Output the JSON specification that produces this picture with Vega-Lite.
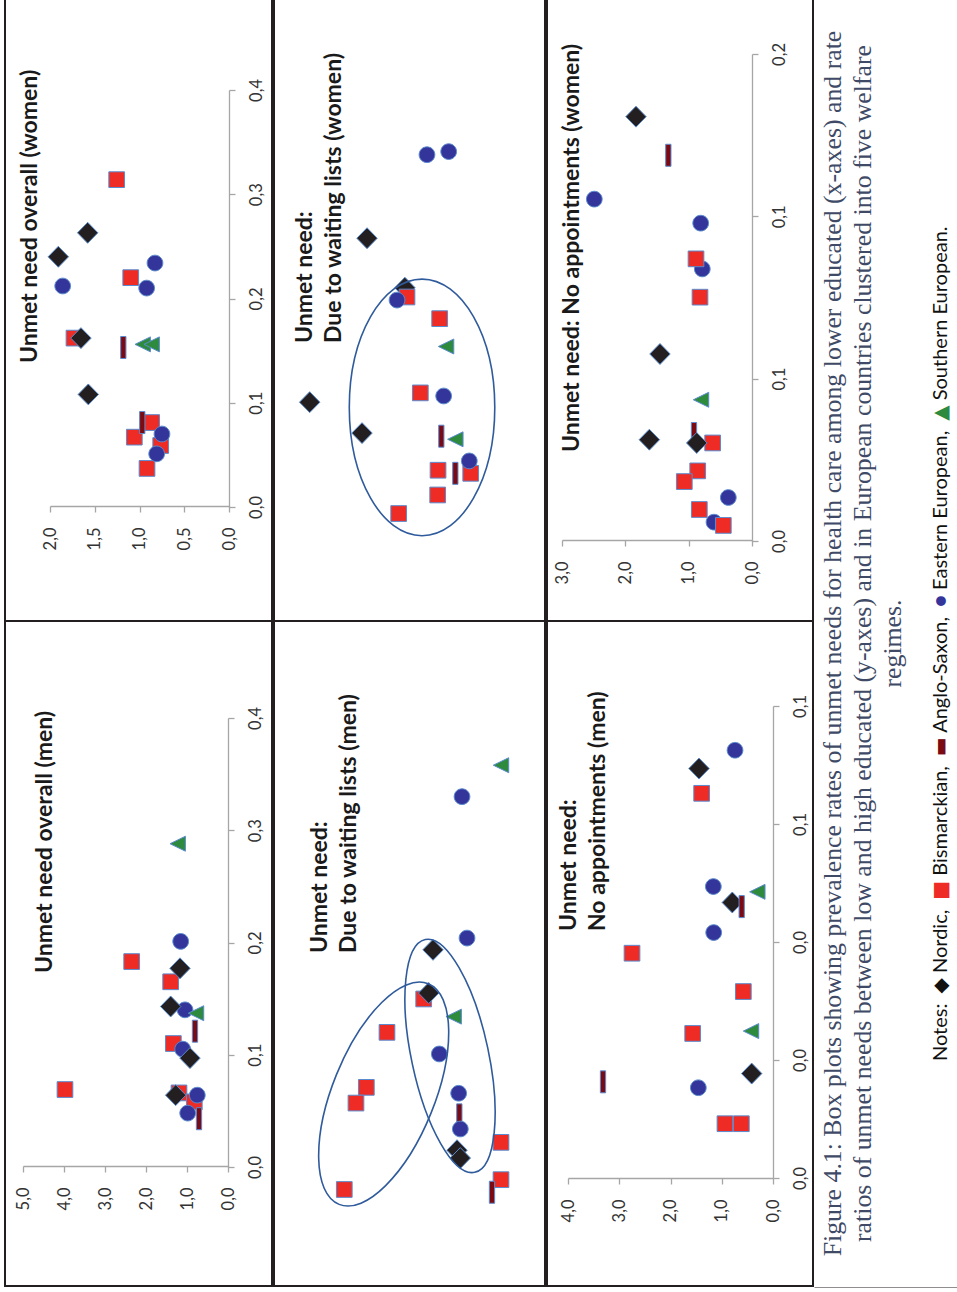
{
  "$schema": "https://vega.github.io/schema/vega-lite/v6.json",
  "background": "white",
  "padding": {"left": 4, "top": -2, "right": 0, "bottom": 0},
  "spacing": 0,
  "datasets": {
    "points": [
      {"panel": "overall-women", "regime": "Bismarckian", "ratio": 1.255, "prevalence": 0.314},
      {"panel": "overall-women", "regime": "Bismarckian", "ratio": 1.098, "prevalence": 0.220},
      {"panel": "overall-women", "regime": "Bismarckian", "ratio": 1.732, "prevalence": 0.162},
      {"panel": "overall-women", "regime": "Bismarckian", "ratio": 0.864, "prevalence": 0.081},
      {"panel": "overall-women", "regime": "Bismarckian", "ratio": 1.058, "prevalence": 0.067},
      {"panel": "overall-women", "regime": "Bismarckian", "ratio": 0.763, "prevalence": 0.059},
      {"panel": "overall-women", "regime": "Bismarckian", "ratio": 0.916, "prevalence": 0.037},
      {"panel": "overall-women", "regime": "Anglo-Saxon", "ratio": 1.181, "prevalence": 0.153},
      {"panel": "overall-women", "regime": "Anglo-Saxon", "ratio": 0.969, "prevalence": 0.081},
      {"panel": "overall-women", "regime": "Eastern European", "ratio": 0.827, "prevalence": 0.234},
      {"panel": "overall-women", "regime": "Eastern European", "ratio": 1.858, "prevalence": 0.212},
      {"panel": "overall-women", "regime": "Eastern European", "ratio": 0.920, "prevalence": 0.210},
      {"panel": "overall-women", "regime": "Eastern European", "ratio": 0.749, "prevalence": 0.070},
      {"panel": "overall-women", "regime": "Eastern European", "ratio": 0.808, "prevalence": 0.051},
      {"panel": "overall-women", "regime": "Nordic", "ratio": 1.579, "prevalence": 0.263},
      {"panel": "overall-women", "regime": "Nordic", "ratio": 1.907, "prevalence": 0.240},
      {"panel": "overall-women", "regime": "Nordic", "ratio": 1.654, "prevalence": 0.162},
      {"panel": "overall-women", "regime": "Nordic", "ratio": 1.572, "prevalence": 0.108},
      {"panel": "overall-women", "regime": "Southern European", "ratio": 0.964, "prevalence": 0.156},
      {"panel": "overall-women", "regime": "Southern European", "ratio": 0.864, "prevalence": 0.156},

      {"panel": "overall-men", "regime": "Bismarckian", "ratio": 2.349, "prevalence": 0.183},
      {"panel": "overall-men", "regime": "Bismarckian", "ratio": 1.398, "prevalence": 0.165},
      {"panel": "overall-men", "regime": "Bismarckian", "ratio": 1.333, "prevalence": 0.110},
      {"panel": "overall-men", "regime": "Bismarckian", "ratio": 3.976, "prevalence": 0.069},
      {"panel": "overall-men", "regime": "Bismarckian", "ratio": 1.195, "prevalence": 0.066},
      {"panel": "overall-men", "regime": "Bismarckian", "ratio": 0.822, "prevalence": 0.058},
      {"panel": "overall-men", "regime": "Anglo-Saxon", "ratio": 0.805, "prevalence": 0.121},
      {"panel": "overall-men", "regime": "Anglo-Saxon", "ratio": 0.707, "prevalence": 0.043},
      {"panel": "overall-men", "regime": "Eastern European", "ratio": 1.154, "prevalence": 0.201},
      {"panel": "overall-men", "regime": "Eastern European", "ratio": 1.049, "prevalence": 0.140},
      {"panel": "overall-men", "regime": "Eastern European", "ratio": 1.105, "prevalence": 0.105},
      {"panel": "overall-men", "regime": "Eastern European", "ratio": 0.749, "prevalence": 0.064},
      {"panel": "overall-men", "regime": "Eastern European", "ratio": 0.983, "prevalence": 0.048},
      {"panel": "overall-men", "regime": "Nordic", "ratio": 1.171, "prevalence": 0.177},
      {"panel": "overall-men", "regime": "Nordic", "ratio": 1.398, "prevalence": 0.143},
      {"panel": "overall-men", "regime": "Nordic", "ratio": 0.927, "prevalence": 0.097},
      {"panel": "overall-men", "regime": "Nordic", "ratio": 1.276, "prevalence": 0.064},
      {"panel": "overall-men", "regime": "Southern European", "ratio": 1.227, "prevalence": 0.288},
      {"panel": "overall-men", "regime": "Southern European", "ratio": 0.780, "prevalence": 0.137},

      {"panel": "waiting-women", "regime": "Nordic", "ratio": 1.400, "prevalence": 0.078},
      {"panel": "waiting-women", "regime": "Bismarckian", "ratio": 1.369, "prevalence": 0.075},
      {"panel": "waiting-women", "regime": "Bismarckian", "ratio": 0.893, "prevalence": 0.068},
      {"panel": "waiting-women", "regime": "Bismarckian", "ratio": 1.175, "prevalence": 0.044},
      {"panel": "waiting-women", "regime": "Bismarckian", "ratio": 0.917, "prevalence": 0.019},
      {"panel": "waiting-women", "regime": "Bismarckian", "ratio": 0.441, "prevalence": 0.018},
      {"panel": "waiting-women", "regime": "Bismarckian", "ratio": 0.922, "prevalence": 0.011},
      {"panel": "waiting-women", "regime": "Bismarckian", "ratio": 1.490, "prevalence": 0.005},
      {"panel": "waiting-women", "regime": "Anglo-Saxon", "ratio": 0.869, "prevalence": 0.030},
      {"panel": "waiting-women", "regime": "Anglo-Saxon", "ratio": 0.665, "prevalence": 0.018},
      {"panel": "waiting-women", "regime": "Eastern European", "ratio": 0.762, "prevalence": 0.122},
      {"panel": "waiting-women", "regime": "Eastern European", "ratio": 1.078, "prevalence": 0.121},
      {"panel": "waiting-women", "regime": "Eastern European", "ratio": 1.514, "prevalence": 0.074},
      {"panel": "waiting-women", "regime": "Eastern European", "ratio": 0.835, "prevalence": 0.043},
      {"panel": "waiting-women", "regime": "Eastern European", "ratio": 0.462, "prevalence": 0.022},
      {"panel": "waiting-women", "regime": "Nordic", "ratio": 1.951, "prevalence": 0.094},
      {"panel": "waiting-women", "regime": "Nordic", "ratio": 2.786, "prevalence": 0.041},
      {"panel": "waiting-women", "regime": "Nordic", "ratio": 2.024, "prevalence": 0.031},
      {"panel": "waiting-women", "regime": "Southern European", "ratio": 0.800, "prevalence": 0.059},
      {"panel": "waiting-women", "regime": "Southern European", "ratio": 0.665, "prevalence": 0.029},

      {"panel": "waiting-men", "regime": "Bismarckian", "ratio": 1.501, "prevalence": 0.0555},
      {"panel": "waiting-men", "regime": "Bismarckian", "ratio": 2.214, "prevalence": 0.047},
      {"panel": "waiting-men", "regime": "Bismarckian", "ratio": 2.615, "prevalence": 0.033},
      {"panel": "waiting-men", "regime": "Bismarckian", "ratio": 2.816, "prevalence": 0.029},
      {"panel": "waiting-men", "regime": "Bismarckian", "ratio": 0.0, "prevalence": 0.019},
      {"panel": "waiting-men", "regime": "Bismarckian", "ratio": 0.0, "prevalence": 0.0095},
      {"panel": "waiting-men", "regime": "Bismarckian", "ratio": 3.043, "prevalence": 0.007},
      {"panel": "waiting-men", "regime": "Anglo-Saxon", "ratio": 0.809, "prevalence": 0.026},
      {"panel": "waiting-men", "regime": "Anglo-Saxon", "ratio": 0.175, "prevalence": 0.0063},
      {"panel": "waiting-men", "regime": "Eastern European", "ratio": 0.757, "prevalence": 0.107},
      {"panel": "waiting-men", "regime": "Eastern European", "ratio": 0.660, "prevalence": 0.071},
      {"panel": "waiting-men", "regime": "Eastern European", "ratio": 1.198, "prevalence": 0.0415},
      {"panel": "waiting-men", "regime": "Eastern European", "ratio": 0.822, "prevalence": 0.0315},
      {"panel": "waiting-men", "regime": "Eastern European", "ratio": 0.790, "prevalence": 0.0224},
      {"panel": "waiting-men", "regime": "Nordic", "ratio": 1.320, "prevalence": 0.068},
      {"panel": "waiting-men", "regime": "Nordic", "ratio": 1.404, "prevalence": 0.057},
      {"panel": "waiting-men", "regime": "Nordic", "ratio": 0.854, "prevalence": 0.017},
      {"panel": "waiting-men", "regime": "Nordic", "ratio": 0.790, "prevalence": 0.015},
      {"panel": "waiting-men", "regime": "Southern European", "ratio": 0.0, "prevalence": 0.115},
      {"panel": "waiting-men", "regime": "Southern European", "ratio": 0.919, "prevalence": 0.051},

      {"panel": "noappt-women", "regime": "Eastern European", "ratio": 2.490, "prevalence": 0.1053},
      {"panel": "noappt-women", "regime": "Eastern European", "ratio": 0.810, "prevalence": 0.0979},
      {"panel": "noappt-women", "regime": "Eastern European", "ratio": 0.785, "prevalence": 0.0838},
      {"panel": "noappt-women", "regime": "Eastern European", "ratio": 0.374, "prevalence": 0.0134},
      {"panel": "noappt-women", "regime": "Eastern European", "ratio": 0.600, "prevalence": 0.0058},
      {"panel": "noappt-women", "regime": "Bismarckian", "ratio": 0.884, "prevalence": 0.0869},
      {"panel": "noappt-women", "regime": "Bismarckian", "ratio": 0.821, "prevalence": 0.0751},
      {"panel": "noappt-women", "regime": "Bismarckian", "ratio": 0.621, "prevalence": 0.0302},
      {"panel": "noappt-women", "regime": "Bismarckian", "ratio": 0.857, "prevalence": 0.0216},
      {"panel": "noappt-women", "regime": "Bismarckian", "ratio": 1.069, "prevalence": 0.0183},
      {"panel": "noappt-women", "regime": "Bismarckian", "ratio": 0.832, "prevalence": 0.0097},
      {"panel": "noappt-women", "regime": "Bismarckian", "ratio": 0.453, "prevalence": 0.0048},
      {"panel": "noappt-women", "regime": "Anglo-Saxon", "ratio": 1.321, "prevalence": 0.1188},
      {"panel": "noappt-women", "regime": "Anglo-Saxon", "ratio": 0.916, "prevalence": 0.0331},
      {"panel": "noappt-women", "regime": "Nordic", "ratio": 1.832, "prevalence": 0.1307},
      {"panel": "noappt-women", "regime": "Nordic", "ratio": 1.453, "prevalence": 0.0576},
      {"panel": "noappt-women", "regime": "Nordic", "ratio": 1.621, "prevalence": 0.0312},
      {"panel": "noappt-women", "regime": "Nordic", "ratio": 0.873, "prevalence": 0.0302},
      {"panel": "noappt-women", "regime": "Southern European", "ratio": 0.805, "prevalence": 0.0435},

      {"panel": "noappt-men", "regime": "Bismarckian", "ratio": 1.392, "prevalence": 0.0652},
      {"panel": "noappt-men", "regime": "Bismarckian", "ratio": 2.751, "prevalence": 0.0381},
      {"panel": "noappt-men", "regime": "Bismarckian", "ratio": 0.579, "prevalence": 0.0316},
      {"panel": "noappt-men", "regime": "Bismarckian", "ratio": 1.567, "prevalence": 0.0245},
      {"panel": "noappt-men", "regime": "Bismarckian", "ratio": 0.937, "prevalence": 0.0092},
      {"panel": "noappt-men", "regime": "Bismarckian", "ratio": 0.618, "prevalence": 0.0092},
      {"panel": "noappt-men", "regime": "Eastern European", "ratio": 0.741, "prevalence": 0.0725},
      {"panel": "noappt-men", "regime": "Eastern European", "ratio": 1.164, "prevalence": 0.0494},
      {"panel": "noappt-men", "regime": "Eastern European", "ratio": 1.157, "prevalence": 0.0416},
      {"panel": "noappt-men", "regime": "Eastern European", "ratio": 1.457, "prevalence": 0.0153},
      {"panel": "noappt-men", "regime": "Nordic", "ratio": 1.444, "prevalence": 0.0694},
      {"panel": "noappt-men", "regime": "Nordic", "ratio": 0.794, "prevalence": 0.0467},
      {"panel": "noappt-men", "regime": "Nordic", "ratio": 0.416, "prevalence": 0.0177},
      {"panel": "noappt-men", "regime": "Anglo-Saxon", "ratio": 0.611, "prevalence": 0.046},
      {"panel": "noappt-men", "regime": "Anglo-Saxon", "ratio": 3.317, "prevalence": 0.0163},
      {"panel": "noappt-men", "regime": "Southern European", "ratio": 0.306, "prevalence": 0.0485},
      {"panel": "noappt-men", "regime": "Southern European", "ratio": 0.429, "prevalence": 0.0249}
    ],
    "clusters": [
      {"panel": "waiting-women", "cluster": "women", "ratio": 1.15, "prevalence": 0.0393},
      {"panel": "waiting-men", "cluster": "left", "ratio": 2.278, "prevalence": 0.0313},
      {"panel": "waiting-men", "cluster": "right", "ratio": 0.99, "prevalence": 0.041}
    ],
    "legend": [
      {"regime": "Southern European", "upto": "Notes:\u2002◆ Nordic,\u2002■ Bismarckian,\u2002▬ Anglo-Saxon,\u2002● Eastern European,\u2002▲", "before": "Notes:\u2002◆ Nordic,\u2002■ Bismarckian,\u2002▬ Anglo-Saxon,\u2002● Eastern European,"},
      {"regime": "Eastern European", "upto": "Notes:\u2002◆ Nordic,\u2002■ Bismarckian,\u2002▬ Anglo-Saxon,\u2002●", "before": "Notes:\u2002◆ Nordic,\u2002■ Bismarckian,\u2002▬ Anglo-Saxon,"},
      {"regime": "Anglo-Saxon", "upto": "Notes:\u2002◆ Nordic,\u2002■ Bismarckian,\u2002▬", "before": "Notes:\u2002◆ Nordic,\u2002■ Bismarckian,"},
      {"regime": "Bismarckian", "upto": "Notes:\u2002◆ Nordic,\u2002■", "before": "Notes:\u2002◆ Nordic,"}
    ]
  },
  "hconcat": [
    {
      "spacing": 0,
      "bounds": "flush",
      "vconcat": [
        {
          "width": 267, "height": 622,
          "title": {"text": "Unmet need overall (women)", "orient": "left", "anchor": "start", "frame": "group", "offset": -36.5, "dx": 258},
          "layer": [
            {
              "data": {"name": "points"},
              "transform": [{"filter": "datum.panel === 'overall-women'"}],
              "mark": {"type": "point", "filled": true, "opacity": 1, "size": 484, "stroke": "#5b8bcf", "strokeWidth": 1},
              "encoding": {
                "x": {"field": "ratio", "type": "quantitative", "scale": {"domain": [0, 2], "range": [224, 45], "nice": false, "zero": false},
                      "axis": {"orient": "bottom", "offset": -115, "values": [0, 0.5, 1, 1.5, 2], "title": null, "labelExpr": "replace(format(datum.value + 1e-9, '.1f'), '.', ',')"}},
                "y": {"field": "prevalence", "type": "quantitative", "scale": {"domain": [0, 0.4], "range": [508, 91], "nice": false, "zero": false},
                      "axis": {"orient": "right", "offset": -43, "values": [0, 0.1, 0.2, 0.3, 0.4], "title": null, "labelExpr": "replace(format(datum.value + 1e-9, '.1f'), '.', ',')"}},
                "color": {"field": "regime", "type": "nominal", "legend": null, "scale": {"domain": ["Nordic", "Bismarckian", "Anglo-Saxon", "Eastern European", "Southern European"], "range": ["#231f20", "#ee2b24", "#7b0a12", "#34359a", "#2e8b3e"]}},
                "shape": {"field": "regime", "type": "nominal", "legend": null, "scale": {"domain": ["Nordic", "Bismarckian", "Anglo-Saxon", "Eastern European", "Southern European"], "range": ["M -0.93 0 L 0 -0.95 L 0.93 0 L 0 0.95 Z", "M -0.714 -0.714 L 0.714 -0.714 L 0.714 0.714 L -0.714 0.714 Z", "M -0.24 -1 L 0.24 -1 L 0.24 1 L -0.24 1 Z", "M 0 -0.714 C 0.394 -0.714 0.714 -0.394 0.714 0 C 0.714 0.394 0.394 0.714 0 0.714 C -0.394 0.714 -0.714 0.394 -0.714 0 C -0.714 -0.394 -0.394 -0.714 0 -0.714 Z", "M -0.7 0 L 0.7 -0.68 L 0.7 0.68 Z"]}}
              }
            }
          ]
        },
        {
          "width": 267, "height": 665,
          "title": {"text": "Unmet need overall (men)", "orient": "left", "anchor": "start", "frame": "group", "offset": -51.5, "dx": 313},
          "layer": [
            {
              "data": {"name": "points"},
              "transform": [{"filter": "datum.panel === 'overall-men'"}],
              "mark": {"type": "point", "filled": true, "opacity": 1, "size": 484, "stroke": "#5b8bcf", "strokeWidth": 1},
              "encoding": {
                "x": {"field": "ratio", "type": "quantitative", "scale": {"domain": [0, 5], "range": [223, 18], "nice": false, "zero": false},
                      "axis": {"orient": "bottom", "offset": -120, "values": [0, 1, 2, 3, 4, 5], "title": null, "labelExpr": "replace(format(datum.value + 1e-9, '.1f'), '.', ',')"}},
                "y": {"field": "prevalence", "type": "quantitative", "scale": {"domain": [0, 0.4], "range": [546, 97], "nice": false, "zero": false},
                      "axis": {"orient": "right", "offset": -44, "values": [0, 0.1, 0.2, 0.3, 0.4], "title": null, "labelExpr": "replace(format(datum.value + 1e-9, '.1f'), '.', ',')"}},
                "color": {"field": "regime", "type": "nominal", "legend": null, "scale": {"domain": ["Nordic", "Bismarckian", "Anglo-Saxon", "Eastern European", "Southern European"], "range": ["#231f20", "#ee2b24", "#7b0a12", "#34359a", "#2e8b3e"]}},
                "shape": {"field": "regime", "type": "nominal", "legend": null, "scale": {"domain": ["Nordic", "Bismarckian", "Anglo-Saxon", "Eastern European", "Southern European"], "range": ["M -0.93 0 L 0 -0.95 L 0.93 0 L 0 0.95 Z", "M -0.714 -0.714 L 0.714 -0.714 L 0.714 0.714 L -0.714 0.714 Z", "M -0.24 -1 L 0.24 -1 L 0.24 1 L -0.24 1 Z", "M 0 -0.714 C 0.394 -0.714 0.714 -0.394 0.714 0 C 0.714 0.394 0.394 0.714 0 0.714 C -0.394 0.714 -0.714 0.394 -0.714 0 C -0.714 -0.394 -0.394 -0.714 0 -0.714 Z", "M -0.7 0 L 0.7 -0.68 L 0.7 0.68 Z"]}}
              }
            }
          ]
        }
      ]
    },
    {
      "spacing": 0,
      "bounds": "flush",
      "vconcat": [
        {
          "width": 271, "height": 622,
          "title": {"text": ["Unmet need:", "Due to waiting lists (women)"], "orient": "left", "anchor": "start", "frame": "group", "offset": -72, "dx": 278},
          "layer": [
            {
              "data": {"name": "points"},
              "transform": [{"filter": "datum.panel === 'waiting-women'"}],
              "mark": {"type": "point", "filled": true, "opacity": 1, "size": 484, "stroke": "#5b8bcf", "strokeWidth": 1},
              "encoding": {
                "x": {"field": "ratio", "type": "quantitative", "scale": {"domain": [0, 3], "range": [227, 21], "nice": false, "zero": false},
                      "axis": {"orient": "bottom", "offset": -93, "values": [0, 0.5, 1, 1.5, 2, 2.5, 3], "title": null, "labelExpr": "replace(format(datum.value + 1e-9, '.1f'), '.', ',')"}},
                "y": {"field": "prevalence", "type": "quantitative", "scale": {"domain": [0, 0.15], "range": [530, 66], "nice": false, "zero": false},
                      "axis": {"orient": "right", "offset": -44, "values": [0, 0.05, 0.1, 0.15], "title": null, "labelExpr": "replace(format(datum.value + 1e-9, '.1f'), '.', ',')"}},
                "color": {"field": "regime", "type": "nominal", "legend": null, "scale": {"domain": ["Nordic", "Bismarckian", "Anglo-Saxon", "Eastern European", "Southern European"], "range": ["#231f20", "#ee2b24", "#7b0a12", "#34359a", "#2e8b3e"]}},
                "shape": {"field": "regime", "type": "nominal", "legend": null, "scale": {"domain": ["Nordic", "Bismarckian", "Anglo-Saxon", "Eastern European", "Southern European"], "range": ["M -0.93 0 L 0 -0.95 L 0.93 0 L 0 0.95 Z", "M -0.714 -0.714 L 0.714 -0.714 L 0.714 0.714 L -0.714 0.714 Z", "M -0.24 -1 L 0.24 -1 L 0.24 1 L -0.24 1 Z", "M 0 -0.714 C 0.394 -0.714 0.714 -0.394 0.714 0 C 0.714 0.394 0.394 0.714 0 0.714 C -0.394 0.714 -0.714 0.394 -0.714 0 C -0.714 -0.394 -0.394 -0.714 0 -0.714 Z", "M -0.7 0 L 0.7 -0.68 L 0.7 0.68 Z"]}}
              }
            },
            {
              "data": {"name": "clusters"},
              "transform": [{"filter": "datum.cluster === 'women'"}],
              "mark": {"type": "point", "filled": false, "opacity": 1, "size": 65844, "stroke": "#2f5b9c", "strokeWidth": 1.6,
                       "shape": "M 0 -1 C 0.313 -1 0.567 -0.552 0.567 0 C 0.567 0.552 0.313 1 0 1 C -0.313 1 -0.567 0.552 -0.567 0 C -0.567 -0.552 -0.313 -1 0 -1 Z"},
              "encoding": {
                "x": {"field": "ratio", "type": "quantitative", "axis": null},
                "y": {"field": "prevalence", "type": "quantitative", "axis": null}
              }
            }
          ]
        },
        {
          "width": 271, "height": 665,
          "title": {"text": ["Unmet need:", "Due to waiting lists (men)"], "orient": "left", "anchor": "start", "frame": "group", "offset": -86.5, "dx": 333},
          "layer": [
            {
              "data": {"name": "points"},
              "transform": [{"filter": "datum.panel === 'waiting-men'"}],
              "mark": {"type": "point", "filled": true, "opacity": 1, "size": 484, "stroke": "#5b8bcf", "strokeWidth": 1},
              "encoding": {
                "x": {"field": "ratio", "type": "quantitative", "scale": {"domain": [0, 4], "range": [227, 21], "nice": false, "zero": false},
                      "axis": {"orient": "bottom", "offset": -70, "values": [0, 1, 2, 3, 4], "title": null, "labelExpr": "replace(format(datum.value + 1e-9, '.1f'), '.', ',')"}},
                "y": {"field": "prevalence", "type": "quantitative", "scale": {"domain": [0, 0.14], "range": [596, 46], "nice": false, "zero": false},
                      "axis": {"orient": "right", "offset": -44, "values": [0, 0.02, 0.04, 0.06, 0.08, 0.1, 0.12, 0.14], "title": null, "labelExpr": "replace(format(datum.value + 1e-9, '.1f'), '.', ',')"}},
                "color": {"field": "regime", "type": "nominal", "legend": null, "scale": {"domain": ["Nordic", "Bismarckian", "Anglo-Saxon", "Eastern European", "Southern European"], "range": ["#231f20", "#ee2b24", "#7b0a12", "#34359a", "#2e8b3e"]}},
                "shape": {"field": "regime", "type": "nominal", "legend": null, "scale": {"domain": ["Nordic", "Bismarckian", "Anglo-Saxon", "Eastern European", "Southern European"], "range": ["M -0.93 0 L 0 -0.95 L 0.93 0 L 0 0.95 Z", "M -0.714 -0.714 L 0.714 -0.714 L 0.714 0.714 L -0.714 0.714 Z", "M -0.24 -1 L 0.24 -1 L 0.24 1 L -0.24 1 Z", "M 0 -0.714 C 0.394 -0.714 0.714 -0.394 0.714 0 C 0.714 0.394 0.394 0.714 0 0.714 C -0.394 0.714 -0.714 0.394 -0.714 0 C -0.714 -0.394 -0.394 -0.714 0 -0.714 Z", "M -0.7 0 L 0.7 -0.68 L 0.7 0.68 Z"]}}
              }
            },
            {
              "data": {"name": "clusters"},
              "transform": [{"filter": "datum.cluster === 'left'"}],
              "mark": {"type": "point", "filled": false, "opacity": 1, "size": 56644, "angle": 22, "stroke": "#2f5b9c", "strokeWidth": 1.6,
                       "shape": "M 0 -1 C 0.237 -1 0.429 -0.552 0.429 0 C 0.429 0.552 0.237 1 0 1 C -0.237 1 -0.429 0.552 -0.429 0 C -0.429 -0.552 -0.237 -1 0 -1 Z"},
              "encoding": {
                "x": {"field": "ratio", "type": "quantitative", "axis": null},
                "y": {"field": "prevalence", "type": "quantitative", "axis": null}
              }
            },
            {
              "data": {"name": "clusters"},
              "transform": [{"filter": "datum.cluster === 'right'"}],
              "mark": {"type": "point", "filled": false, "opacity": 1, "size": 56644, "angle": 348, "stroke": "#2f5b9c", "strokeWidth": 1.6,
                       "shape": "M 0 -1 C 0.179 -1 0.324 -0.552 0.324 0 C 0.324 0.552 0.179 1 0 1 C -0.179 1 -0.324 0.552 -0.324 0 C -0.324 -0.552 -0.179 -1 0 -1 Z"},
              "encoding": {
                "x": {"field": "ratio", "type": "quantitative", "axis": null},
                "y": {"field": "prevalence", "type": "quantitative", "axis": null}
              }
            }
          ]
        }
      ]
    },
    {
      "spacing": 0,
      "bounds": "flush",
      "vconcat": [
        {
          "width": 266, "height": 622,
          "title": {"text": "Unmet need: No appointments (women)", "orient": "left", "anchor": "start", "frame": "group", "offset": -36.5, "dx": 169},
          "layer": [
            {
              "data": {"name": "points"},
              "transform": [{"filter": "datum.panel === 'noappt-women'"}],
              "mark": {"type": "point", "filled": true, "opacity": 1, "size": 484, "stroke": "#5b8bcf", "strokeWidth": 1},
              "encoding": {
                "x": {"field": "ratio", "type": "quantitative", "scale": {"domain": [0, 3], "range": [205, 15], "nice": false, "zero": false},
                      "axis": {"orient": "bottom", "offset": -81, "values": [0, 1, 2, 3], "title": null, "labelExpr": "replace(format(datum.value + 1e-9, '.1f'), '.', ',')"}},
                "y": {"field": "prevalence", "type": "quantitative", "scale": {"domain": [0, 0.15], "range": [542, 55], "nice": false, "zero": false},
                      "axis": {"orient": "right", "offset": -61, "values": [0, 0.05, 0.1, 0.15], "title": null, "labelExpr": "replace(format(datum.value + 1e-9, '.1f'), '.', ',')"}},
                "color": {"field": "regime", "type": "nominal", "legend": null, "scale": {"domain": ["Nordic", "Bismarckian", "Anglo-Saxon", "Eastern European", "Southern European"], "range": ["#231f20", "#ee2b24", "#7b0a12", "#34359a", "#2e8b3e"]}},
                "shape": {"field": "regime", "type": "nominal", "legend": null, "scale": {"domain": ["Nordic", "Bismarckian", "Anglo-Saxon", "Eastern European", "Southern European"], "range": ["M -0.93 0 L 0 -0.95 L 0.93 0 L 0 0.95 Z", "M -0.714 -0.714 L 0.714 -0.714 L 0.714 0.714 L -0.714 0.714 Z", "M -0.24 -1 L 0.24 -1 L 0.24 1 L -0.24 1 Z", "M 0 -0.714 C 0.394 -0.714 0.714 -0.394 0.714 0 C 0.714 0.394 0.394 0.714 0 0.714 C -0.394 0.714 -0.714 0.394 -0.714 0 C -0.714 -0.394 -0.394 -0.714 0 -0.714 Z", "M -0.7 0 L 0.7 -0.68 L 0.7 0.68 Z"]}}
              }
            }
          ]
        },
        {
          "width": 266, "height": 665,
          "title": {"text": ["Unmet need:", "No appointments (men)"], "orient": "left", "anchor": "start", "frame": "group", "offset": -63, "dx": 355},
          "layer": [
            {
              "data": {"name": "points"},
              "transform": [{"filter": "datum.panel === 'noappt-men'"}],
              "mark": {"type": "point", "filled": true, "opacity": 1, "size": 484, "stroke": "#5b8bcf", "strokeWidth": 1},
              "encoding": {
                "x": {"field": "ratio", "type": "quantitative", "scale": {"domain": [0, 4], "range": [226, 21], "nice": false, "zero": false},
                      "axis": {"orient": "bottom", "offset": -108, "values": [0, 1, 2, 3, 4], "title": null, "labelExpr": "replace(format(datum.value + 1e-9, '.1f'), '.', ',')"}},
                "y": {"field": "prevalence", "type": "quantitative", "scale": {"domain": [0, 0.08], "range": [557, 85], "nice": false, "zero": false},
                      "axis": {"orient": "right", "offset": -40, "values": [0, 0.02, 0.04, 0.06, 0.08], "title": null, "labelExpr": "replace(format(datum.value + 1e-9, '.1f'), '.', ',')"}},
                "color": {"field": "regime", "type": "nominal", "legend": null, "scale": {"domain": ["Nordic", "Bismarckian", "Anglo-Saxon", "Eastern European", "Southern European"], "range": ["#231f20", "#ee2b24", "#7b0a12", "#34359a", "#2e8b3e"]}},
                "shape": {"field": "regime", "type": "nominal", "legend": null, "scale": {"domain": ["Nordic", "Bismarckian", "Anglo-Saxon", "Eastern European", "Southern European"], "range": ["M -0.93 0 L 0 -0.95 L 0.93 0 L 0 0.95 Z", "M -0.714 -0.714 L 0.714 -0.714 L 0.714 0.714 L -0.714 0.714 Z", "M -0.24 -1 L 0.24 -1 L 0.24 1 L -0.24 1 Z", "M 0 -0.714 C 0.394 -0.714 0.714 -0.394 0.714 0 C 0.714 0.394 0.394 0.714 0 0.714 C -0.394 0.714 -0.714 0.394 -0.714 0 C -0.714 -0.394 -0.394 -0.714 0 -0.714 Z", "M -0.7 0 L 0.7 -0.68 L 0.7 0.68 Z"]}}
              }
            }
          ]
        }
      ]
    },
    {
      "spacing": 0,
      "bounds": "flush",
      "hconcat": [
        {
          "width": 38, "height": 1289,
          "view": {"stroke": null},
          "layer": [
            {
              "data": {"values": [{"part": "caption"}]},
              "mark": {"type": "text", "angle": 270, "align": "center", "baseline": "middle", "font": "Liberation Serif", "fontSize": 25.8, "lineHeight": 30, "color": "#3e4a66"},
              "encoding": {
                "text": {"value": [
                  "Figure 4.1: Box plots showing prevalence rates of unmet needs for health care among lower educated (x-axes) and rate",
                  "ratios of unmet needs between low and high educated (y-axes) and in European countries clustered into five welfare",
                  "regimes."
                ]}
              }
            },
            {
              "data": {"values": [{"part": "caption"}]},
              "mark": {"type": "text", "text": ""},
              "encoding": {
                "x": {"field": "part", "type": "nominal", "scale": {"type": "band", "paddingInner": 0, "paddingOuter": 0, "range": [0, 143]},
                      "axis": {"title": null, "labels": false, "ticks": false, "domainColor": "#231f20", "domainWidth": 2}}
              }
            }
          ]
        },
        {
          "width": 99, "height": 1062,
          "view": {"stroke": null},
          "layer": [
            {
              "data": {"values": [{"notes": "Notes:\u2002◆ Nordic,\u2002■ Bismarckian,\u2002▬ Anglo-Saxon,\u2002● Eastern European,\u2002▲ Southern European."}]},
              "mark": {"type": "text", "angle": 270, "align": "left", "baseline": "bottom", "font": "Lato, DejaVu Sans", "fontSize": 20, "color": "#111111"},
              "encoding": {"x": {"value": "width"}, "y": {"value": "height"}, "text": {"field": "notes"}}
            },
            {
              "data": {"name": "legend"}, "transform": [{"filter": "datum.regime === 'Southern European'"}],
              "mark": {"type": "text", "angle": 270, "align": "left", "baseline": "bottom", "font": "Lato, DejaVu Sans", "fontSize": 20, "fill": "white", "stroke": "white", "strokeWidth": 3},
              "encoding": {"x": {"value": "width"}, "y": {"value": "height"}, "text": {"field": "upto"}}
            },
            {
              "data": {"name": "legend"}, "transform": [{"filter": "datum.regime === 'Southern European'"}],
              "mark": {"type": "text", "angle": 270, "align": "left", "baseline": "bottom", "font": "Lato, DejaVu Sans", "fontSize": 20},
              "encoding": {"x": {"value": "width"}, "y": {"value": "height"}, "text": {"field": "upto"},
                "color": {"field": "regime", "type": "nominal", "legend": null, "scale": {"domain": ["Nordic", "Bismarckian", "Anglo-Saxon", "Eastern European", "Southern European"], "range": ["#231f20", "#ee2b24", "#7b0a12", "#34359a", "#2e8b3e"]}}}
            },
            {
              "data": {"name": "legend"}, "transform": [{"filter": "datum.regime === 'Southern European'"}],
              "mark": {"type": "text", "angle": 270, "align": "left", "baseline": "bottom", "font": "Lato, DejaVu Sans", "fontSize": 20, "fill": "white", "stroke": "white", "strokeWidth": 3},
              "encoding": {"x": {"value": "width"}, "y": {"value": "height"}, "text": {"field": "before"}}
            },
            {
              "data": {"name": "legend"}, "transform": [{"filter": "datum.regime === 'Southern European'"}],
              "mark": {"type": "text", "angle": 270, "align": "left", "baseline": "bottom", "font": "Lato, DejaVu Sans", "fontSize": 20, "color": "#111111"},
              "encoding": {"x": {"value": "width"}, "y": {"value": "height"}, "text": {"field": "before"}}
            },
            {
              "data": {"name": "legend"}, "transform": [{"filter": "datum.regime === 'Eastern European'"}],
              "mark": {"type": "text", "angle": 270, "align": "left", "baseline": "bottom", "font": "Lato, DejaVu Sans", "fontSize": 20, "fill": "white", "stroke": "white", "strokeWidth": 3},
              "encoding": {"x": {"value": "width"}, "y": {"value": "height"}, "text": {"field": "upto"}}
            },
            {
              "data": {"name": "legend"}, "transform": [{"filter": "datum.regime === 'Eastern European'"}],
              "mark": {"type": "text", "angle": 270, "align": "left", "baseline": "bottom", "font": "Lato, DejaVu Sans", "fontSize": 20},
              "encoding": {"x": {"value": "width"}, "y": {"value": "height"}, "text": {"field": "upto"},
                "color": {"field": "regime", "type": "nominal", "legend": null, "scale": {"domain": ["Nordic", "Bismarckian", "Anglo-Saxon", "Eastern European", "Southern European"], "range": ["#231f20", "#ee2b24", "#7b0a12", "#34359a", "#2e8b3e"]}}}
            },
            {
              "data": {"name": "legend"}, "transform": [{"filter": "datum.regime === 'Eastern European'"}],
              "mark": {"type": "text", "angle": 270, "align": "left", "baseline": "bottom", "font": "Lato, DejaVu Sans", "fontSize": 20, "fill": "white", "stroke": "white", "strokeWidth": 3},
              "encoding": {"x": {"value": "width"}, "y": {"value": "height"}, "text": {"field": "before"}}
            },
            {
              "data": {"name": "legend"}, "transform": [{"filter": "datum.regime === 'Eastern European'"}],
              "mark": {"type": "text", "angle": 270, "align": "left", "baseline": "bottom", "font": "Lato, DejaVu Sans", "fontSize": 20, "color": "#111111"},
              "encoding": {"x": {"value": "width"}, "y": {"value": "height"}, "text": {"field": "before"}}
            },
            {
              "data": {"name": "legend"}, "transform": [{"filter": "datum.regime === 'Anglo-Saxon'"}],
              "mark": {"type": "text", "angle": 270, "align": "left", "baseline": "bottom", "font": "Lato, DejaVu Sans", "fontSize": 20, "fill": "white", "stroke": "white", "strokeWidth": 3},
              "encoding": {"x": {"value": "width"}, "y": {"value": "height"}, "text": {"field": "upto"}}
            },
            {
              "data": {"name": "legend"}, "transform": [{"filter": "datum.regime === 'Anglo-Saxon'"}],
              "mark": {"type": "text", "angle": 270, "align": "left", "baseline": "bottom", "font": "Lato, DejaVu Sans", "fontSize": 20},
              "encoding": {"x": {"value": "width"}, "y": {"value": "height"}, "text": {"field": "upto"},
                "color": {"field": "regime", "type": "nominal", "legend": null, "scale": {"domain": ["Nordic", "Bismarckian", "Anglo-Saxon", "Eastern European", "Southern European"], "range": ["#231f20", "#ee2b24", "#7b0a12", "#34359a", "#2e8b3e"]}}}
            },
            {
              "data": {"name": "legend"}, "transform": [{"filter": "datum.regime === 'Anglo-Saxon'"}],
              "mark": {"type": "text", "angle": 270, "align": "left", "baseline": "bottom", "font": "Lato, DejaVu Sans", "fontSize": 20, "fill": "white", "stroke": "white", "strokeWidth": 3},
              "encoding": {"x": {"value": "width"}, "y": {"value": "height"}, "text": {"field": "before"}}
            },
            {
              "data": {"name": "legend"}, "transform": [{"filter": "datum.regime === 'Anglo-Saxon'"}],
              "mark": {"type": "text", "angle": 270, "align": "left", "baseline": "bottom", "font": "Lato, DejaVu Sans", "fontSize": 20, "color": "#111111"},
              "encoding": {"x": {"value": "width"}, "y": {"value": "height"}, "text": {"field": "before"}}
            },
            {
              "data": {"name": "legend"}, "transform": [{"filter": "datum.regime === 'Bismarckian'"}],
              "mark": {"type": "text", "angle": 270, "align": "left", "baseline": "bottom", "font": "Lato, DejaVu Sans", "fontSize": 20, "fill": "white", "stroke": "white", "strokeWidth": 3},
              "encoding": {"x": {"value": "width"}, "y": {"value": "height"}, "text": {"field": "upto"}}
            },
            {
              "data": {"name": "legend"}, "transform": [{"filter": "datum.regime === 'Bismarckian'"}],
              "mark": {"type": "text", "angle": 270, "align": "left", "baseline": "bottom", "font": "Lato, DejaVu Sans", "fontSize": 20},
              "encoding": {"x": {"value": "width"}, "y": {"value": "height"}, "text": {"field": "upto"},
                "color": {"field": "regime", "type": "nominal", "legend": null, "scale": {"domain": ["Nordic", "Bismarckian", "Anglo-Saxon", "Eastern European", "Southern European"], "range": ["#231f20", "#ee2b24", "#7b0a12", "#34359a", "#2e8b3e"]}}}
            },
            {
              "data": {"name": "legend"}, "transform": [{"filter": "datum.regime === 'Bismarckian'"}],
              "mark": {"type": "text", "angle": 270, "align": "left", "baseline": "bottom", "font": "Lato, DejaVu Sans", "fontSize": 20, "fill": "white", "stroke": "white", "strokeWidth": 3},
              "encoding": {"x": {"value": "width"}, "y": {"value": "height"}, "text": {"field": "before"}}
            },
            {
              "data": {"name": "legend"}, "transform": [{"filter": "datum.regime === 'Bismarckian'"}],
              "mark": {"type": "text", "angle": 270, "align": "left", "baseline": "bottom", "font": "Lato, DejaVu Sans", "fontSize": 20, "color": "#111111"},
              "encoding": {"x": {"value": "width"}, "y": {"value": "height"}, "text": {"field": "before"}}
            }
          ]
        }
      ]
    }
  ],
  "config": {
    "view": {"stroke": "#231f20", "strokeWidth": 2},
    "axis": {
      "grid": false, "domainColor": "#a6a6a6", "domainWidth": 1.3, "tickColor": "#a6a6a6", "tickWidth": 1.3, "tickSize": 6,
      "labelFont": "Lato", "labelFontSize": 16.5, "labelColor": "#333333", "labelAngle": 270,
      "labelOverlap": false, "labelFlush": false, "labelBound": false
    },
    "axisX": {"labelAlign": "right", "labelBaseline": "middle", "labelPadding": 15},
    "axisY": {"labelAlign": "center", "labelBaseline": "top", "labelPadding": 13},
    "title": {"font": "Lato", "fontSize": 23, "fontWeight": "bold", "color": "#1a1a1a", "lineHeight": 29}
  }
}
